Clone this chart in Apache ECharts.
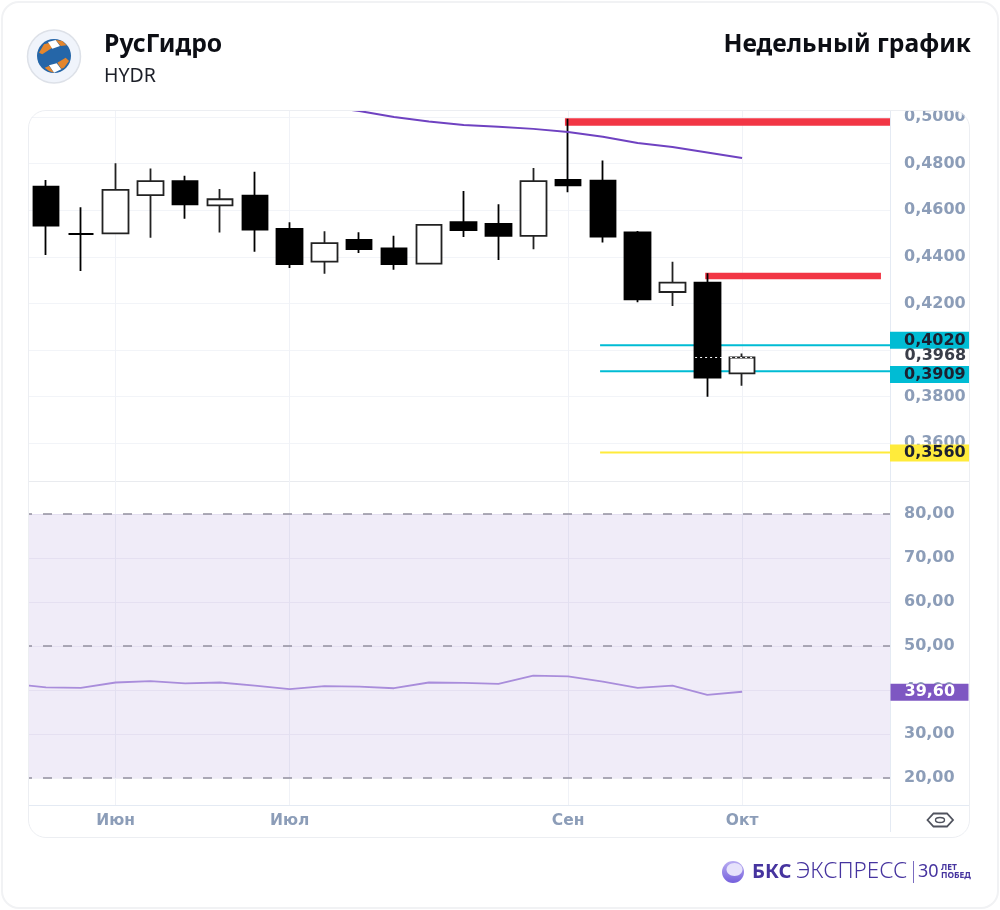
<!DOCTYPE html>
<html>
<head>
<meta charset="utf-8">
<title>РусГидро</title>
<script src="https://cdn.jsdelivr.net/npm/echarts@6/dist/echarts.min.js"></script>
<style>
html, body { margin: 0; padding: 0; background: #fff; }
#chart { position: absolute; left: 0; top: 0; width: 1000px; height: 910px; }
#frame { position: absolute; left: 28px; top: 110px; width: 942px; height: 728px; box-sizing: border-box;
  border: 1px solid #eceef2; border-radius: 18px; box-shadow: 0 0 0 16px #fff; pointer-events: none; }
#outer { position: absolute; left: 1px; top: 1px; width: 998px; height: 908px; box-sizing: border-box;
  border: 2px solid #f1f2f4; border-radius: 18px; pointer-events: none; }
</style>
</head>
<body>
<div id="chart"></div>
<div id="frame"></div>
<div id="outer"></div>
<script>
// weekly candles
var opens  = [0.4701, 0.4498, 0.4501, 0.4665, 0.4725, 0.4621, 0.4662, 0.4520, 0.4379, 0.4473, 0.4436, 0.4371, 0.4549, 0.4541, 0.4490, 0.4730, 0.4727, 0.4505, 0.4249, 0.4289, 0.3900];
var closes = [0.4534, 0.4498, 0.4687, 0.4725, 0.4625, 0.4647, 0.4517, 0.4369, 0.4459, 0.4433, 0.4369, 0.4537, 0.4515, 0.4490, 0.4725, 0.4707, 0.4487, 0.4218, 0.4289, 0.3882, 0.3968];
var lows   = [0.4408, 0.4339, 0.4501, 0.4482, 0.4563, 0.4504, 0.4422, 0.4352, 0.4327, 0.4416, 0.4344, 0.4367, 0.4485, 0.4386, 0.4433, 0.4677, 0.4461, 0.4205, 0.4189, 0.3799, 0.3847];
var highs  = [0.4730, 0.4613, 0.4802, 0.4779, 0.4748, 0.4691, 0.4765, 0.4548, 0.4510, 0.4505, 0.4490, 0.4541, 0.4682, 0.4626, 0.4781, 0.4992, 0.4813, 0.4511, 0.4379, 0.4329, 0.3985];
// moving average, starts above the visible range
var maValues = [null, null, null, null, null, null, null, null, 0.5045, 0.5026, 0.5000, 0.4981, 0.4966, 0.4958, 0.4949, 0.4936, 0.4915, 0.4888, 0.4871, 0.4848, 0.4824];
// first value belongs to the week before the visible one
var rsiValues = [41.4, 40.6, 40.5, 41.7, 42.0, 41.5, 41.7, 41.0, 40.2, 40.9, 40.75, 40.4, 41.7, 41.6, 41.4, 43.25, 43.1, 41.9, 40.5, 41.0, 38.9, 39.6];

var monthIndex = [2, 7, 15, 20];
var monthNames = ['Июн', 'Июл', 'Сен', 'Окт'];
var priceTicks = [0.36, 0.38, 0.40, 0.42, 0.44, 0.46, 0.48, 0.50];
var priceLabels = [0.36, 0.38, 0.42, 0.44, 0.46, 0.48, 0.50];
var rsiTicks = [20, 30, 40, 50, 60, 70, 80];
var rsiBands = [80, 50, 20];

var lastClose = 0.3968;
var lastRsi = 39.6;
var resistLevels = [[14.91, 0.4978], [18.94, 0.4318]];
var resistEnds = [24.25, 23.99];
var supportLevels = [0.4020, 0.3909, 0.3560];
var supportColors = ['#00bcd4', '#00bcd4', '#ffeb3b'];
var supportOffsets = [-5, 3.3, 0.5];
var supportStart = 15.92;

var xMin = -0.517, xMax = 24.25;
var textColor = '#8c9db8';
var labelFont = 'DejaVu Sans';

function price(v) { return v.toFixed(4).replace('.', ','); }
function rsiText(v) { return v.toFixed(2).replace('.', ','); }

var candleData = [];
for (var i = 0; i < opens.length; i++) {
    candleData.push([i, opens[i], closes[i], lows[i], highs[i]]);
}
var maData = [];
for (var i = 0; i < maValues.length; i++) {
    if (maValues[i] !== null) maData.push([i, maValues[i]]);
}
var rsiData = [];
for (var i = 0; i < rsiValues.length; i++) {
    rsiData.push([i - 1, rsiValues[i]]);
}

function xAxisOf(gridIndex, showLabels) {
    return {
        type: 'value', gridIndex: gridIndex, min: xMin, max: xMax, silent: true,
        axisLine: { show: false },
        axisTick: { show: false, customValues: monthIndex },
        splitLine: { show: true, lineStyle: { color: '#f0f2f7', width: 1 } },
        axisLabel: {
            show: showLabels, customValues: monthIndex, margin: 8,
            color: textColor, fontFamily: labelFont, fontWeight: 'bold', fontSize: 15.5,
            formatter: function (v) { return monthNames[monthIndex.indexOf(v)]; }
        }
    };
}

var series = [];

resistLevels.forEach(function (lv, k) {
    series.push({
        type: 'line', xAxisIndex: 0, yAxisIndex: 0, z: 1, showSymbol: false, silent: true,
        lineStyle: { color: '#f23645', width: k === 0 ? 7.5 : 6.5, cap: 'butt' },
        data: [[lv[0], lv[1]], [resistEnds[k], lv[1]]]
    });
});

supportLevels.forEach(function (v, k) {
    series.push({
        type: 'line', xAxisIndex: 0, yAxisIndex: 0, z: 1, showSymbol: false, silent: true,
        lineStyle: { color: supportColors[k], width: 2 },
        data: [[supportStart, v], [xMax, v]],
        endLabel: {
            show: true, formatter: function () { return price(v); },
            distance: 0, offset: [0, supportOffsets[k]],
            backgroundColor: supportColors[k], color: '#1c2030',
            fontFamily: labelFont, fontWeight: 'bold', fontSize: 16,
            padding: [0, 0, 0, 14], width: 66, height: 17, lineHeight: 17, align: 'left'
        }
    });
});

series.push({
    type: 'candlestick', xAxisIndex: 0, yAxisIndex: 0, z: 2, barWidth: 26, silent: true,
    encode: { x: 0, y: [1, 2, 3, 4] },
    itemStyle: {
        color: '#ffffff', color0: '#000000',
        borderColor: '#222222', borderColor0: '#000000', borderColorDoji: '#000000', borderWidth: 1.8
    },
    data: candleData
});

series.push({
    type: 'line', xAxisIndex: 0, yAxisIndex: 0, z: 3, showSymbol: false, silent: true,
    lineStyle: { color: '#6f42c1', width: 2 },
    data: maData
});

// current close: dotted across the last two candles, plain text on the scale
series.push({
    type: 'line', xAxisIndex: 0, yAxisIndex: 0, z: 4, showSymbol: false, silent: true,
    lineStyle: { color: '#ffffff', width: 1, type: [2, 3] },
    data: [[18.65, lastClose], [20.37, lastClose]]
});
series.push({
    type: 'scatter', xAxisIndex: 0, yAxisIndex: 0, z: 5, symbolSize: 1, silent: true,
    itemStyle: { color: 'transparent', opacity: 1 },
    label: {
        show: true, position: 'right', distance: 0, offset: [14, -1.5],
        formatter: function () { return price(lastClose); },
        color: '#3a3e49', fontFamily: labelFont, fontWeight: 'bold', fontSize: 16
    },
    data: [[xMax, lastClose]]
});

series.push({
    type: 'line', xAxisIndex: 1, yAxisIndex: 1, z: 3, showSymbol: false, silent: true,
    lineStyle: { color: '#a98ddb', width: 1.8 },
    data: rsiData,
    markArea: {
        silent: true,
        itemStyle: { color: 'rgba(108,72,190,0.1)' },
        data: [[{ yAxis: rsiBands[2] }, { yAxis: rsiBands[0] }]]
    },
    markLine: {
        silent: true, symbol: 'none', label: { show: false },
        lineStyle: { color: '#93909f', width: 1.5, type: [9, 11], dashOffset: 5 },
        data: rsiBands.map(function (v) { return { yAxis: v }; })
    }
});
series.push({
    type: 'scatter', xAxisIndex: 1, yAxisIndex: 1, z: 5, symbolSize: 1, silent: true,
    itemStyle: { color: 'transparent', opacity: 1 },
    label: {
        show: true, position: 'right', distance: 0, offset: [0, 0.5],
        formatter: function () { return rsiText(lastRsi); },
        backgroundColor: '#7e57c2', color: '#ffffff',
        fontFamily: labelFont, fontWeight: 'bold', fontSize: 16,
        padding: [0, 0, 0, 14], width: 64, height: 17, lineHeight: 17, align: 'left'
    },
    data: [[xMax, lastRsi]]
});

var logoItems = [
    { type: 'circle', shape: { cx: 54, cy: 56.5, r: 26.5 }, style: { fill: '#f0f4fb', stroke: '#dde1e8', lineWidth: 1.5 } },
    { type: 'circle', shape: { cx: 54, cy: 56, r: 17 }, style: { fill: '#2566a8' } },
    { type: 'polygon', shape: { points: [[39, 52.7], [44, 44.3], [50, 42.7], [52.3, 47.7], [42.3, 54.3]] }, style: { fill: '#e4862d' } },
    { type: 'polygon', shape: { points: [[48, 42], [55.7, 40], [60, 46], [52.3, 48.7]] }, style: { fill: '#ffffff' } },
    { type: 'polygon', shape: { points: [[55.7, 40], [62.3, 41], [66.7, 45.3], [60.7, 46]] }, style: { fill: '#e4862d' } },
    { type: 'polygon', shape: { points: [[49, 65.3], [56.7, 63.3], [61.3, 69.3], [54, 72.7]] }, style: { fill: '#ffffff' } },
    { type: 'polygon', shape: { points: [[57.3, 62.7], [65.7, 57.7], [69, 61], [64, 67.7], [61.3, 68.7]] }, style: { fill: '#e4862d' } },
    { type: 'polygon', shape: { points: [[44.7, 67.7], [49, 66], [54, 72.7], [49, 71]] }, style: { fill: '#e4862d' } }
];

var footerItems = [
    { type: 'circle', shape: { cx: 733, cy: 872, r: 11 }, style: { fill: new echarts.graphic.LinearGradient(0, 0, 0, 1, [{ offset: 0, color: '#b9adf2' }, { offset: 1, color: '#7560dc' }]) } },
    { type: 'ellipse', shape: { cx: 734.5, cy: 869.5, rx: 8, ry: 6.5 }, style: { fill: '#e6e2fb' } },
    { type: 'text', x: 752, y: 872, style: { text: 'БКС', fill: '#46349f', font: 'bold 20px "Noto Sans"', textVerticalAlign: 'middle' } },
    { type: 'text', x: 796, y: 872, style: { text: 'ЭКСПРЕСС', fill: '#46349f', font: '300 22.5px "Noto Sans"', textVerticalAlign: 'middle' } },
    { type: 'line', shape: { x1: 913.5, y1: 861, x2: 913.5, y2: 883 }, style: { stroke: '#7a6cc0', lineWidth: 1 } },
    { type: 'text', x: 918, y: 872, style: { text: '30', fill: '#46349f', font: '18px "Noto Sans"', textVerticalAlign: 'middle' } },
    { type: 'text', x: 941, y: 867.5, style: { text: 'ЛЕТ', fill: '#46349f', font: 'bold 8.5px "Noto Sans"', textVerticalAlign: 'middle' } },
    { type: 'text', x: 941, y: 876, style: { text: 'ПОБЕД', fill: '#46349f', font: 'bold 8.5px "Noto Sans"', textVerticalAlign: 'middle' } }
];

var frameItems = [
    { type: 'line', shape: { x1: 28, y1: 481.5, x2: 970, y2: 481.5 }, style: { stroke: '#e9ebef', lineWidth: 1 } },
    { type: 'line', shape: { x1: 28, y1: 805.5, x2: 970, y2: 805.5 }, style: { stroke: '#e4eaf3', lineWidth: 1 } },
    { type: 'line', shape: { x1: 890.5, y1: 110, x2: 890.5, y2: 832 }, style: { stroke: '#e4eaf3', lineWidth: 1 } },
    { type: 'polygon', shape: { points: [[927.5, 820], [933.5, 813.5], [947, 813.5], [953, 820], [947, 826.5], [933.5, 826.5]] }, style: { fill: 'none', stroke: '#50535e', lineWidth: 1.8 } },
    { type: 'ellipse', shape: { cx: 940, cy: 820, rx: 4.5, ry: 2.5 }, style: { fill: 'none', stroke: '#50535e', lineWidth: 1.4 } }
];

var textItems = [
    { type: 'text', x: 104, y: 45, style: { text: 'РусГидро', fill: '#0c0e14', font: 'bold 24.7px "Noto Sans"', textVerticalAlign: 'middle' } },
    { type: 'text', x: 104, y: 76, style: { text: 'HYDR', fill: '#1c1f28', font: '19.5px "Noto Sans"', textVerticalAlign: 'middle' } },
    { type: 'text', x: 971, y: 45, style: { text: 'Недельный график', fill: '#0c0e14', font: 'bold 24.7px "Noto Sans"', textAlign: 'right', textVerticalAlign: 'middle' } }
];

var myChart = echarts.init(document.getElementById('chart'));
myChart.setOption({
    animation: false,
    backgroundColor: '#ffffff',
    grid: [
        { left: 28, top: 110, width: 862, height: 371 },
        { left: 28, top: 481, width: 862, height: 324 }
    ],
    xAxis: [xAxisOf(0, false), xAxisOf(1, true)],
    yAxis: [
        {
            type: 'value', gridIndex: 0, position: 'right', min: 0.3438, max: 0.503, silent: true,
            axisLine: { show: false },
            axisTick: { show: false, customValues: priceTicks },
            splitLine: { show: true, lineStyle: { color: '#f2f4f8', width: 1 } },
            axisLabel: {
                customValues: priceLabels, margin: 14, color: textColor,
                fontFamily: labelFont, fontWeight: 'bold', fontSize: 16, padding: [0, 0, 3, 0], formatter: price
            }
        },
        {
            type: 'value', gridIndex: 1, position: 'right', min: 13.86, max: 87.5, silent: true,
            axisLine: { show: false },
            axisTick: { show: false, customValues: rsiTicks },
            splitLine: { show: true, lineStyle: { color: '#f3f2f8', width: 1 } },
            axisLabel: {
                customValues: rsiTicks, margin: 14, color: textColor,
                fontFamily: labelFont, fontWeight: 'bold', fontSize: 16, formatter: rsiText
            }
        }
    ],
    graphic: { elements: frameItems.concat(logoItems, textItems, footerItems) },
    series: series
});
</script>
</body>
</html>
